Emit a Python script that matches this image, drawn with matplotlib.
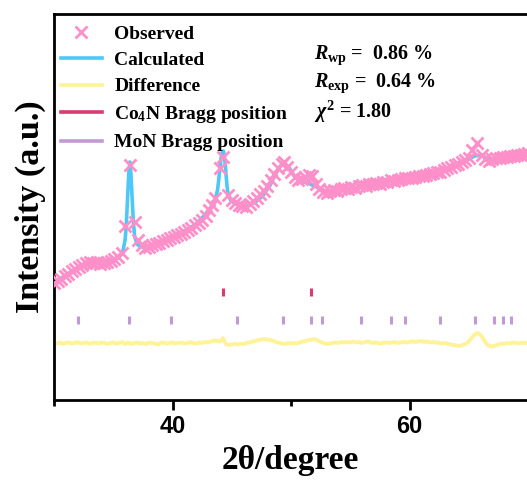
import matplotlib
matplotlib.use("Agg")
import numpy as np
import matplotlib.pyplot as plt
from matplotlib.lines import Line2D
from matplotlib.ticker import FixedLocator, NullLocator

plt.rcParams["font.family"] = ["Liberation Serif", "DejaVu Serif"]
plt.rcParams["font.weight"] = "bold"
plt.rcParams["mathtext.fontset"] = "custom"
plt.rcParams["mathtext.rm"] = "Liberation Serif:bold"
plt.rcParams["mathtext.it"] = "Liberation Serif:bold:italic"
plt.rcParams["mathtext.bf"] = "Liberation Serif:bold"

# Observed pattern (2theta, intensity a.u.)
obs_2theta = [30.0, 30.3, 30.6, 30.9, 31.2, 31.5, 31.8, 32.1, 32.4, 32.7, 33.0, 33.3,
              33.6, 33.9, 34.2, 34.5, 34.8, 35.1, 35.4, 35.7, 36.0, 36.4, 36.8, 37.1,
              37.4, 37.7, 38.0, 38.3, 38.6, 38.9, 39.2, 39.5, 39.8, 40.1, 40.4, 40.7,
              41.0, 41.3, 41.6, 41.9, 42.2, 42.5, 42.8, 43.1, 43.3, 43.6, 44.0, 44.3,
              44.7, 45.0, 45.3, 45.6, 45.9, 46.2, 46.5, 46.8, 47.1, 47.4, 47.7, 48.0,
              48.3, 48.6, 48.9, 49.2, 49.4, 49.7, 50.0, 50.3, 50.6, 50.9, 51.2, 51.5,
              51.8, 52.1, 52.4, 52.7, 53.0, 53.3, 53.6, 53.9, 54.2, 54.5, 54.8, 55.1,
              55.4, 55.7, 56.0, 56.3, 56.6, 56.9, 57.2, 57.5, 57.8, 58.1, 58.4, 58.7,
              59.0, 59.3, 59.6, 59.9, 60.2, 60.5, 60.8, 61.1, 61.4, 61.7, 62.0, 62.3,
              62.6, 62.9, 63.2, 63.5, 63.8, 64.1, 64.4, 64.7, 65.0, 65.3, 65.7, 66.1,
              66.4, 66.7, 67.0, 67.3, 67.6, 67.9, 68.2, 68.5, 68.8, 69.1, 69.4, 69.7,
              70.0]
obs_int = [117, 119, 121, 124, 126, 129, 131, 133, 135, 137, 138, 137,
           138, 136, 137, 138, 139, 141, 143, 147, 174, 235, 178, 160,
           155, 152, 153, 155, 156, 157, 159, 160, 162, 163, 165, 166,
           168, 170, 172, 175, 177, 180, 184, 190, 195, 202, 232, 243,
           205, 200, 197, 195, 194, 193, 196, 199, 202, 206, 209, 214,
           220, 226, 232, 236, 238, 233, 228, 223, 220, 221, 223, 225,
           224, 216, 211, 208, 207, 209, 210, 209, 211, 212, 211, 213,
           212, 214, 215, 214, 216, 216, 217, 216, 218, 218, 220, 219,
           220, 221, 222, 222, 222, 223, 224, 224, 225, 226, 227, 228,
           228, 230, 232, 233, 235, 236, 238, 240, 242, 250, 257, 245,
           241, 239, 241, 242, 242, 243, 243, 244, 244, 245, 245, 246,
           247]

# Calculated profile
calc_2theta = [30.0, 31.0, 32.0, 33.0, 34.0, 35.0, 35.5, 35.8, 36.0, 36.1, 36.2, 36.3,
               36.4, 36.5, 36.6, 36.7, 36.8, 37.0, 37.3, 38.0, 39.0, 40.0, 41.0, 42.0,
               42.8, 43.3, 43.6, 43.8, 43.9, 44.0, 44.1, 44.2, 44.3, 44.4, 44.5, 44.6,
               44.7, 44.9, 45.2, 45.8, 46.3, 47.0, 47.6, 48.2, 48.7, 49.1, 49.4, 49.8,
               50.3, 50.8, 51.4, 52.0, 52.6, 53.2, 54.0, 55.0, 56.0, 57.0, 58.0, 59.0,
               60.0, 61.0, 62.0, 63.0, 64.0, 64.6, 65.0, 65.5, 66.0, 66.5, 67.0, 67.5,
               68.0, 69.0, 70.0]
calc_int = [117, 125, 132, 137, 137, 140, 143, 148, 160, 175, 200, 225,
            238, 225, 200, 178, 164, 156, 153, 153, 159, 164, 169, 176,
            186, 194, 200, 210, 220, 232, 242, 248, 249, 242, 228, 214,
            205, 200, 197, 194, 194, 198, 204, 214, 226, 234, 237, 233,
            224, 219, 217, 214, 210, 208, 209, 211, 214, 216, 218, 220,
            222, 224, 227, 231, 236, 239, 241, 244, 245, 242, 241, 242,
            243, 245, 247]

# Difference curve (obs - calc, offset), sampled every 0.25 degree from 30 to 70
diff_int = [57, 56.5, 57.5, 56, 57, 57.5, 56.5, 57, 58, 56.5, 57, 57.5, 56, 57, 57.5,
            56.5, 57.5, 57, 56, 57, 57.5,
            56.5, 57, 58, 56, 57.5, 56, 57, 57.5, 56.5, 57, 56, 57.5, 57, 56.5, 55.5,
            57, 57.5, 56.5, 57, 57.5,
            56.5, 57, 57.5, 56.5, 57, 58, 57, 56.5, 57.5, 57, 58, 57.5, 58.5, 59.5, 59,
            58.5, 62, 56, 55, 55.5,
            56, 55.5, 56.5, 56, 57, 57.5, 58.5, 59, 60, 60.5, 61, 60.5, 60, 59, 58,
            57, 56.5, 56, 57, 56.5,
            57, 56.5, 57.5, 58.5, 59, 60, 60.5, 61, 59.5, 58, 57, 56, 56.5, 57, 57.5,
            57, 58, 57.5, 58, 57.5,
            58.5, 57.5, 58, 57, 58, 58.5, 57.5, 57, 57.5, 56.5, 57, 57.5, 57, 57.5, 58,
            57, 57.5, 58, 57.5, 58,
            58.5, 58, 58.5, 59, 58, 58.5, 57.5, 58, 57.5, 57, 56.5, 57, 56, 55.5, 55,
            54.5, 54, 55, 56, 58.5,
            62, 65.5, 67, 65, 61, 56, 54, 53.5, 54.5, 55.5, 56.5, 56, 57, 56.5, 57.5,
            57, 56.5, 57.5, 57, 57.5]
diff_2theta = np.linspace(30.0, 70.0, len(diff_int))

# Bragg reflections
co4n_pos = [44.3, 51.7]
mon_pos = [32.0, 36.3, 39.85, 45.45, 49.3, 51.65, 52.6, 55.9, 58.45, 59.6,
           62.55, 65.5, 67.1, 67.9, 68.55]

stats_lines = [r"$R_{\mathrm{wp}}$ =  0.86 %",
               r"$R_{\mathrm{exp}}$ =  0.64 %",
               r"$\chi^2$ = 1.80"]

c_obs = "#ff8fc9"
c_calc = "#4ec8f7"
c_diff = "#fff39a"
c_co4n = "#d93a72"
c_mon = "#bf9bd3"

W, H = 527, 480
fig = plt.figure(figsize=(W / 100, H / 100), dpi=100)
x0, y_bot, y_top = 54, 400, 14
px_per_deg = 11.85
x_lo, x_hi = 30, 75
ax = fig.add_axes([x0 / W, (H - y_bot) / H, (x_hi - x_lo) * px_per_deg / W,
                   (y_bot - y_top) / H])

ax.plot(calc_2theta, calc_int, color=c_calc, lw=2.6, zorder=2)
ax.plot(obs_2theta, obs_int, ls="none", marker="x", ms=8, mew=2.0, color=c_obs, zorder=3)
ax.plot(diff_2theta, diff_int, color=c_diff, lw=2.8, zorder=2)
ax.vlines(co4n_pos, 104, 112, color=c_co4n, lw=2.2)
ax.vlines(mon_pos, 76, 84, color=c_mon, lw=2.2)

ax.set_xlim(x_lo, x_hi)
ax.set_ylim(0, 386)
ax.xaxis.set_major_locator(FixedLocator([40, 60]))
ax.xaxis.set_minor_locator(FixedLocator([30, 50, 70]))
ax.yaxis.set_major_locator(NullLocator())
ax.tick_params(axis="x", which="major", direction="out", length=7, width=2, pad=4)
ax.tick_params(axis="x", which="minor", direction="out", length=4, width=2)
for lab in ax.get_xticklabels():
    lab.set_fontfamily("Liberation Sans")
    lab.set_fontweight("bold")
    lab.set_fontsize(17)
for s in ax.spines.values():
    s.set_linewidth(2)

fig.text(290 / W, 1 - 461 / H, "2θ/degree", fontsize=24, fontweight="bold",
         ha="center", va="center")
ax.set_ylabel("Intensity (a.u.)", fontsize=24.5, fontweight="bold", labelpad=6)

handles = [
    Line2D([], [], ls="none", marker="x", ms=8, mew=2.0, color=c_obs),
    Line2D([], [], color=c_calc, lw=2.6),
    Line2D([], [], color=c_diff, lw=2.6),
    Line2D([], [], color=c_co4n, lw=2.6),
    Line2D([], [], color=c_mon, lw=2.6),
]
labels = ["Observed", "Calculated", "Difference", r"Co$_4$N Bragg position", "MoN Bragg position"]
fig.legend(handles, labels, loc="upper left", bbox_to_anchor=(61 / W, 1 - 25 / H),
           frameon=False, handlelength=2.1, handletextpad=0.65,
           labelspacing=0.45, borderpad=0, borderaxespad=0,
           prop={"family": "Liberation Serif", "weight": "bold", "size": 14})

for i, t in enumerate(stats_lines):
    fig.text(314 / W, 1 - (55 + 28.5 * i) / H, t, fontsize=14.5, fontweight="bold",
             va="center", ha="left")

fig.savefig("out.png", dpi=100)
